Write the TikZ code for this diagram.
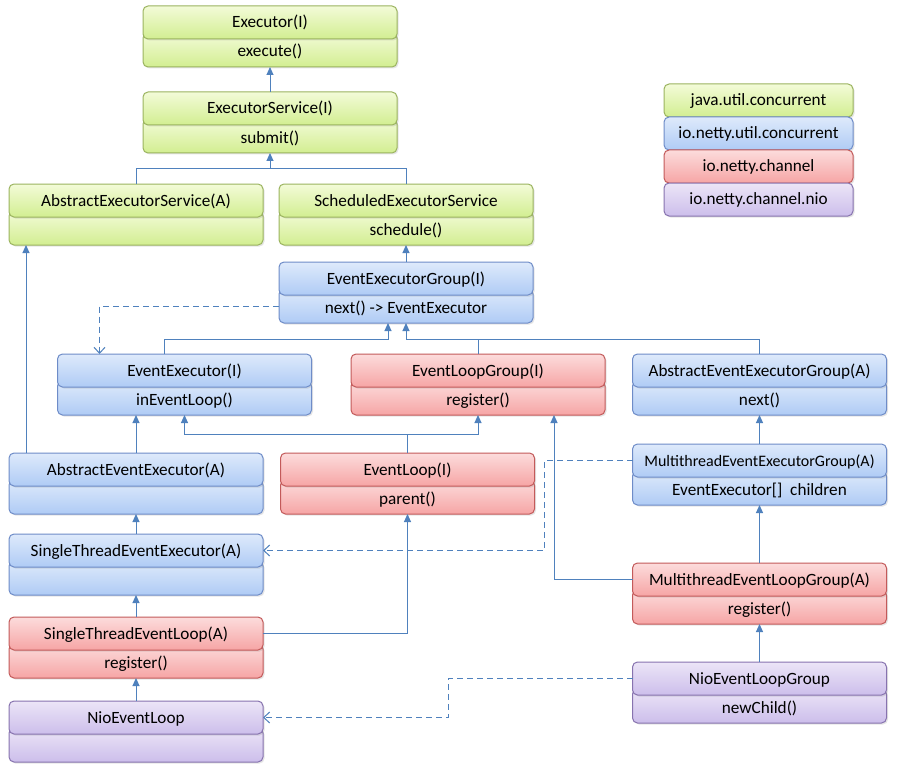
\documentclass[tikz,border=0pt]{standalone}
\usepackage{fontspec}
\setmainfont{Carlito}
\usetikzlibrary{arrows.meta,positioning,shadows,backgrounds}
\definecolor{javaTop}{RGB}{243,251,216}
\definecolor{javaBot}{RGB}{210,238,145}
\definecolor{javaLine}{RGB}{155,180,95}
\definecolor{utilTop}{RGB}{222,234,251}
\definecolor{utilBot}{RGB}{175,203,245}
\definecolor{utilLine}{RGB}{110,140,200}
\definecolor{chanTop}{RGB}{252,220,220}
\definecolor{chanBot}{RGB}{246,165,165}
\definecolor{chanLine}{RGB}{195,90,90}
\definecolor{nioTop}{RGB}{236,229,247}
\definecolor{nioBot}{RGB}{204,190,235}
\definecolor{nioLine}{RGB}{135,115,175}
\definecolor{linkBlue}{RGB}{79,129,189}

\begin{document}
\begin{tikzpicture}[x=1pt,y=-1pt,
  cls/.style={rounded corners=5pt,minimum width=254pt,inner sep=0pt,outer sep=0pt,line width=1pt,
    font=\fontsize{17.2}{20}\selectfont,text depth=4pt,
    drop shadow={shadow xshift=1.5pt,shadow yshift=-1.5pt,opacity=0.2}},
  hd/.style={cls,minimum height=33pt,text height=15pt,anchor=north},
  bd/.style={cls,minimum height=34pt,text height=18pt,below=-6pt of #1},
  leg/.style={cls,minimum width=189pt,minimum height=33pt,text height=14pt},
  java/.style={draw=javaLine,top color=javaTop,bottom color=javaBot},
  util/.style={draw=utilLine,top color=utilTop,bottom color=utilBot},
  chan/.style={draw=chanLine,top color=chanTop,bottom color=chanBot},
  nio/.style={draw=nioLine,top color=nioTop,bottom color=nioBot},
  link/.style={draw=linkBlue,line width=1pt},
  inh/.style={link,-{Triangle[width=7pt,length=8pt]}},
  dep/.style={link,dash pattern=on 6pt off 4pt,-{Straight Barb[width=11pt,length=6pt]}}]
  \useasboundingbox (0,0) rectangle (897,765);

  % java.util.concurrent
  \node[hd,java] (ex) at (270,6) {Executor(I)};
  \node[hd,java] (es) at (270,92) {ExecutorService(I)};
  \node[hd,java] (aes) at (136,184) {AbstractExecutorService(A)};
  \node[hd,java] (ses) at (406,184) {ScheduledExecutorService};

  % io.netty.util.concurrent
  \node[hd,util] (eeg) at (406,262) {EventExecutorGroup(I)};
  \node[hd,util] (ee) at (184.5,354) {EventExecutor(I)};
  \node[hd,util] (aeeg) at (759.5,354) {AbstractEventExecutorGroup(A)};
  \node[hd,util] (aee) at (136,453) {AbstractEventExecutor(A)};
  \node[hd,util,font=\fontsize{16}{20}\selectfont] (meeg) at (759.5,444) {MultithreadEventExecutorGroup(A)};
  \node[hd,util] (stee) at (136,534) {SingleThreadEventExecutor(A)};

  % io.netty.channel
  \node[hd,chan] (elg) at (478,354) {EventLoopGroup(I)};
  \node[hd,chan] (el) at (407.5,453) {EventLoop(I)};
  \node[hd,chan] (melg) at (759.5,563) {MultithreadEventLoopGroup(A)};
  \node[hd,chan] (stel) at (136,617) {SingleThreadEventLoop(A)};

  % io.netty.channel.nio
  \node[hd,nio] (nelg) at (759.5,662) {NioEventLoopGroup};
  \node[hd,nio] (nel) at (136,701) {NioEventLoop};

  % methods, tucked under the titles
  \begin{scope}[on background layer]
    \fill[white] (0,0) rectangle (897,765);
    \node[bd=ex,java] (exM) {execute()};
    \node[bd=es,java] (esM) {submit()};
    \node[bd=aes,java] (aesM) {};
    \node[bd=ses,java] (sesM) {schedule()};
    \node[bd=eeg,util] (eegM) {next() -> EventExecutor};
    \node[bd=ee,util] (eeM) {inEventLoop()};
    \node[bd=aeeg,util] (aeegM) {next()};
    \node[bd=aee,util] (aeeM) {};
    \node[bd=meeg,util] (meegM) {EventExecutor[]\ \ children};
    \node[bd=stee,util] (steeM) {};
    \node[bd=elg,chan] (elgM) {register()};
    \node[bd=el,chan] (elM) {parent()};
    \node[bd=melg,chan] (melgM) {register()};
    \node[bd=stel,chan] (stelM) {register()};
    \node[bd=nelg,nio] (nelgM) {newChild()};
    \node[bd=nel,nio] (nelM) {};
  \end{scope}

  % legend
  \node[leg,java,anchor=north] (lg1) at (758.5,84) {java.util.concurrent};
  \node[leg,util,below=0pt of lg1] (lg2) {io.netty.util.concurrent};
  \node[leg,chan,below=0pt of lg2] (lg3) {io.netty.channel};
  \node[leg,nio,below=0pt of lg3] (lg4) {io.netty.channel.nio};

  % joints
  \coordinate (j1) at (270,169);
  \coordinate (j2) at (388,339);
  \coordinate (j3) at (406,339);
  \coordinate (j4) at (407.5,434);
  \coordinate (j5) at (544,550.5);
  \coordinate (j6) at (448,717.5);

  \draw[inh] (es) -- (exM);
  \draw[inh] (aes.north) |- (j1) -- (esM.south);
  \draw[link] (ses.north) |- (j1);
  \draw[inh] (eeg) -- (sesM);
  \draw[dep] (eegM.west) -| ([xshift=42pt]ee.north west);
  \draw[inh] ([xshift=-20pt]ee.north) |- (j2) -- (j2 |- eegM.south);
  \draw[inh] (aeeg.north) |- (j3) -- (eegM.south);
  \draw[link] (elg.north) -- (elg.north |- j3);
  \draw[inh] ([xshift=17pt]aee.north west) -- ([xshift=17pt]aesM.south west);
  \draw[inh] (aee) -- (aee.north |- eeM.south);
  \draw[link] (el.north) -- (j4);
  \draw[inh] (j4) -| (eeM.south);
  \draw[inh] (j4) -| (elgM.south);
  \draw[inh] (stee) -- (aeeM);
  \draw[inh] (stel) -- (steeM);
  \draw[inh] (nel) -- (stelM);
  \draw[inh] (stel.east) -| (elM.south);
  \draw[inh] (meeg) -- (aeegM);
  \draw[inh] (melg) -- (meegM);
  \draw[inh] (nelg) -- (melgM);
  \draw[inh] (melg.west) -| ([xshift=76pt]elgM.south);
  \draw[dep] (meeg.west) -| (j5) -- (stee.east);
  \draw[dep] (nelg.west) -| (j6) -- (nel.east);
\end{tikzpicture}
\end{document}
